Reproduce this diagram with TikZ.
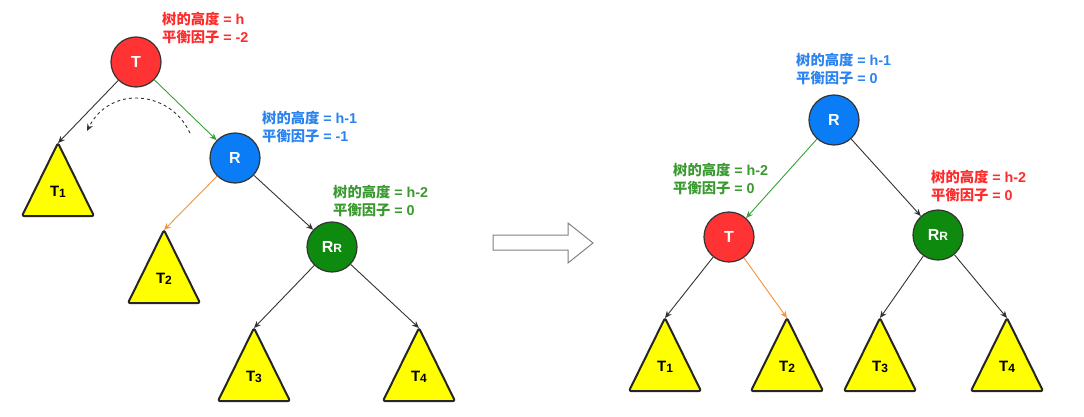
\documentclass[tikz,border=0pt]{standalone}
\usepackage{fontspec}
\setmainfont{Liberation Sans}
\newfontfamily\cjk{Noto Sans CJK SC}
\usetikzlibrary{arrows.meta}
\definecolor{cRed}{HTML}{FF3333}
\definecolor{cBlue}{HTML}{0A7CF5}
\definecolor{cGreen}{HTML}{0E8A0E}
\definecolor{tRed}{HTML}{FF2B2B}
\definecolor{tBlue}{HTML}{2B83F0}
\definecolor{tGreen}{HTML}{3A9A30}
\definecolor{eGreen}{HTML}{3AA03A}
\definecolor{eOrange}{HTML}{F5923A}
\definecolor{triY}{HTML}{FFFF00}
\definecolor{edgeK}{HTML}{333333}
\tikzset{
  tnode/.style={circle, minimum size=50pt, inner sep=0pt, draw=edgeK, line width=1.2pt,
    text=white, font=\fontsize{16}{16}\selectfont\bfseries},
  lbl/.style={font=\fontsize{14.3}{18}\selectfont\bfseries, align=left, inner sep=0pt, anchor=west},
  tristyle/.style={draw=black!85, fill=triY, line width=2pt, rounded corners=2pt, line join=round},
  trilbl/.style={font=\fontsize{15}{15}\selectfont\bfseries, inner sep=0pt},
  conn/.style={draw=edgeK, line width=0.9pt, -{Stealth[length=7pt,width=6pt]}},
}
\newcommand{\mytri}[4]{%
  \coordinate (#1) at (#2,#3);
  \draw[tristyle] (#1) -- ++(-36,73) -- ++(72,0) -- cycle;
  \path (#1) ++(0,49) node[trilbl] (#1l) {T\raisebox{-1pt}{\fontsize{12}{12}\selectfont #4}};
}
\begin{document}
\begin{tikzpicture}[x=1pt,y=-1pt]
\useasboundingbox[fill=white] (0,0) rectangle (1084,417);

% ---------- left tree ----------
\node[tnode, fill=cRed] (LT) at (136,62) {T};
\node[tnode, fill=cBlue] (LR) at (235,158) {R};
\node[tnode, fill=cGreen] (LRR) at (332,247) {R\fontsize{12}{12}\selectfont R};

\node[lbl, text=tRed] (lLT) at (162,28) {{\cjk 树的高度} = h\\{\cjk 平衡因子} = -2};
\node[lbl, text=tBlue] (lLR) at (262,127) {{\cjk 树的高度} = h-1\\{\cjk 平衡因子} = -1};
\node[lbl, text=tGreen] (lLRR) at (333,201) {{\cjk 树的高度} = h-2\\{\cjk 平衡因子} = 0};

\mytri{L1}{58}{143}{1}
\mytri{L2}{164}{230}{2}
\mytri{L3}{254}{328}{3}
\mytri{L4}{419}{328}{4}

\draw[conn] (LT) -- (L1);
\draw[conn, draw=eGreen] (LT) -- (LR);
\draw[conn, draw=eOrange] (LR) -- (L2);
\draw[conn] (LR) -- (LRR);
\draw[conn] (LRR) -- (L3);
\draw[conn] (LRR) -- (L4);

\coordinate (ds) at (190,133);
\coordinate (de) at (87,131);
\draw[edgeK, line width=0.9pt, dashed, -{Stealth[length=7pt,width=6pt]}]
  (ds) .. controls (170,90) and (110,85) .. (de);

% ---------- hollow arrow ----------
\draw[draw=black!50, line width=1pt, line join=miter]
  (493,235) -- (568,235) -- (568,223) -- (593,243) -- (568,263) -- (568,250) -- (493,250) -- cycle;

% ---------- right tree ----------
\node[tnode, fill=cBlue] (RR) at (834,120) {R};
\node[tnode, fill=cRed] (RT) at (729,237) {T};
\node[tnode, fill=cGreen] (RRR) at (938,235) {R\fontsize{12}{12}\selectfont R};

\node[lbl, text=tBlue] (lRR) at (796,69) {{\cjk 树的高度} = h-1\\{\cjk 平衡因子} = 0};
\node[lbl, text=tGreen] (lRT) at (673,179) {{\cjk 树的高度} = h-2\\{\cjk 平衡因子} = 0};
\node[lbl, text=tRed] (lRRR) at (931,186) {{\cjk 树的高度} = h-2\\{\cjk 平衡因子} = 0};

\mytri{R1}{665}{318}{1}
\mytri{R2}{787}{318}{2}
\mytri{R3}{880}{318}{3}
\mytri{R4}{1007}{318}{4}

\draw[conn, draw=eGreen] (RR) -- (RT);
\draw[conn] (RR) -- (RRR);
\draw[conn] (RT) -- (R1);
\draw[conn, draw=eOrange] (RT) -- (R2);
\draw[conn] (RRR) -- (R3);
\draw[conn] (RRR) -- (R4);
\end{tikzpicture}
\end{document}
